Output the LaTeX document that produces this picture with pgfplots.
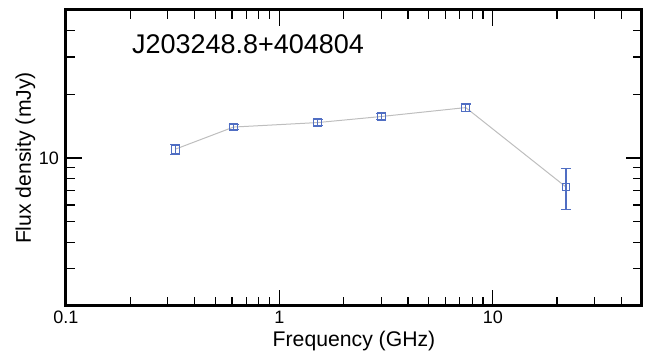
\documentclass[border=0pt]{standalone}
\usepackage{pgfplots}
\pgfplotsset{compat=1.18}
\usepackage{fontspec}
\setmainfont{Liberation Sans}
\definecolor{mblue}{RGB}{80,110,195}
\definecolor{lgray}{RGB}{190,190,190}
\begin{document}
\begin{tikzpicture}
\begin{axis}[
  name=ax,
  scale only axis,
  width=288pt, height=148pt,
  xmode=log, ymode=log,
  xmin=0.1, xmax=50, ymin=2, ymax=50,
  axis line style={line width=1.5pt},
  tick style={line width=0.6pt, black},
  major tick length=8pt,
  minor tick length=4.5pt,
  tick align=inside,
  xtick={0.1,1,10},
  xticklabels={0.1,1,10},
  ytick={10},
  yticklabels={10},
  minor xtick={0.2,0.3,0.4,0.5,0.6,0.7,0.8,0.9,2,3,4,5,6,7,8,9,20,30,40},
  minor ytick={2,3,4,5,6,7,8,9,20,30,40},
  /pgf/number format/assume math mode=true,
  ticklabel style={font=\fontsize{9}{10}\selectfont},
  xlabel={Frequency (GHz)},
  ylabel={Flux density (mJy)},
  label style={font=\fontsize{10.6}{12}\selectfont},
  xlabel style={yshift=3pt},
  ylabel style={yshift=-5pt},
  xticklabel style={yshift=1pt},
  clip=false,
]
\addplot[color=lgray, line width=0.5pt, mark=square, mark size=1.9pt,
  mark options={draw=mblue, line width=0.5pt},
  error bars/.cd, y dir=both, y explicit,
  error bar style={mblue, line width=0.6pt},
  error mark options={rotate=90, mark size=2.5pt, mblue, line width=0.6pt}]
  coordinates {
  (0.325,11.0) +- (0,0.6)
  (0.61,14.0) +- (0,0.4)
  (1.51,14.7) +- (0,0.5)
  (3.0,15.7) +- (0,0.5)
  (7.47,17.3) +- (0,0.7)
  (22.0,7.3) +- (0,1.6)
  };
\node[anchor=west, inner sep=0pt, font=\fontsize{13.5}{15}\selectfont] at (axis cs:0.203,34.5) {J203248.8+404804};
\end{axis}
\pgfresetboundingbox
\path[use as bounding box] ([shift={(-33pt,-23pt)}]ax.south west) rectangle ([shift={(2.5pt,5pt)}]ax.north east);
\end{tikzpicture}
\end{document}
